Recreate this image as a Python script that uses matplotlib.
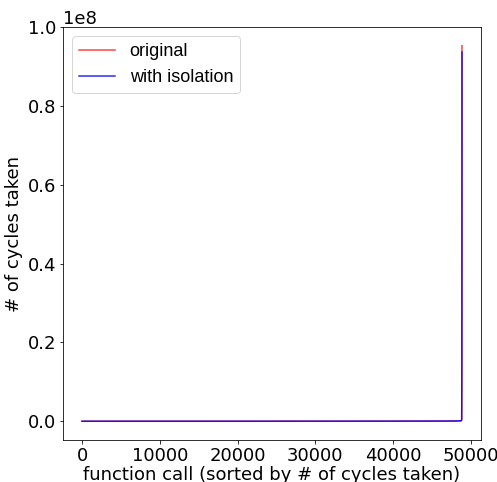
import matplotlib
matplotlib.use("Agg")
import matplotlib.pyplot as plt
import numpy as np

# per-call cycle counts, sorted ascending; sampled at the calls where the curve bends
call_index = [0, 10000, 20000, 30000, 40000, 46000, 48000, 48600, 48780, 48820,
              48835, 48845, 48850, 48854, 48857, 48859]
cycles_original = [900, 3000, 6000, 12000, 25000, 40000, 60000, 90000, 150000, 400000,
                   7500000, 17000000, 37000000, 51000000, 75000000, 95300000]
cycles_isolation = [950, 3100, 6200, 12500, 26000, 42000, 62000, 95000, 155000, 410000,
                    7600000, 17000000, 37000000, 51000000, 74000000, 93700000]

plt.rcParams["font.size"] = 18

fig = plt.figure(figsize=(497 / 72, 482 / 72), dpi=72)
ax = fig.add_axes([63 / 497, 42 / 482, 418 / 497, 413 / 482])

ax.plot(call_index, cycles_original, color="red", alpha=0.75, linewidth=1.5, label="original")
ax.plot(call_index, cycles_isolation, color="blue", alpha=0.85, linewidth=1.5, label="with isolation")

ax.set_xlabel("function call (sorted by # of cycles taken)", labelpad=1)
ax.set_ylabel("# of cycles taken")
ax.set_xticks([0, 10000, 20000, 30000, 40000, 50000])
ax.set_yticks([0, 0.2e8, 0.4e8, 0.6e8, 0.8e8, 1.0e8])

ax.legend(loc="upper left", prop={"family": "Liberation Sans", "size": 18})

fig.savefig("out.png", dpi=72)
